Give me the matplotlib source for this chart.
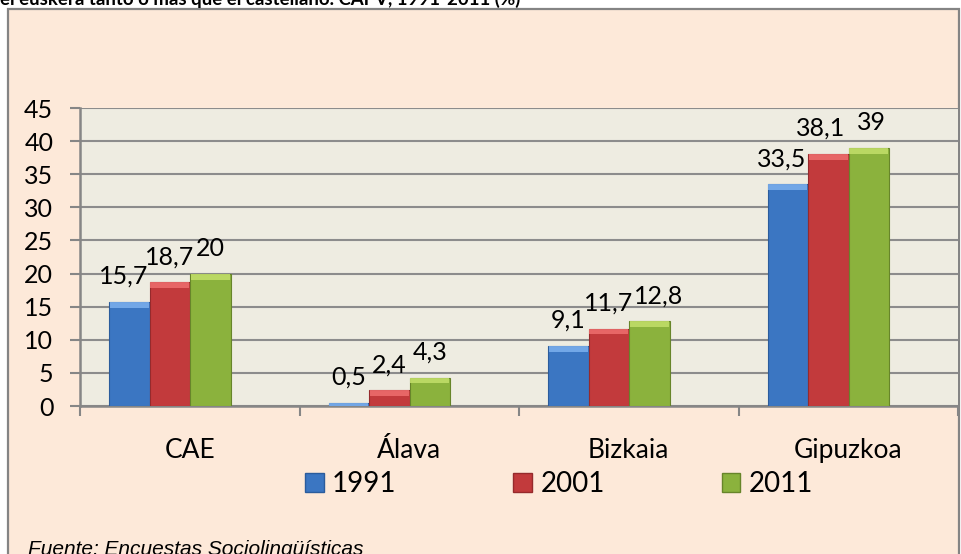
import matplotlib
matplotlib.use("Agg")
import matplotlib.pyplot as plt
import numpy as np
from matplotlib.patches import Patch, Rectangle

# data
categories = ["CAE", "Álava", "Bizkaia", "Gipuzkoa"]
years = ["1991", "2001", "2011"]
v1991 = [15.7, 0.5, 9.1, 33.5]
v2001 = [18.7, 2.4, 11.7, 38.1]
v2011 = [20.0, 4.3, 12.8, 39.0]
yticks = [0, 5, 10, 15, 20, 25, 30, 35, 40, 45]

TITLE = "el euskera tanto o más que el castellano. CAPV, 1991-2011 (%)"
SOURCE = "Fuente: Encuestas Sociolingüísticas"

BODY = ["#3B76C2", "#C23A3C", "#8BB23D"]
TOP = ["#7DB0EE", "#EE6E6E", "#C3DF6A"]
EDGE = ["#2B5C9C", "#962A2C", "#67852A"]
FRAME_BG = "#FDE9D9"
PLOT_BG = "#EEECE1"
GRID = "#8C8C8C"

# small horizontal nudges (pixels) of some value labels, as in the original
NUDGE = {(0, 0): -6, (2, 2): 9, (3, 0): -6, (3, 1): -8, (3, 2): 3}

W, H = 961, 554
plt.rcParams["font.family"] = ["Lato", "DejaVu Sans"]

fig = plt.figure(figsize=(W / 100, H / 100), dpi=100)
fig.patch.set_facecolor("white")

# outer chart frame, drawn in a background axes
bg = fig.add_axes([0, 0, 1, 1], zorder=-1)
bg.set_xlim(0, W); bg.set_ylim(H, 0); bg.axis("off")
bg.add_patch(Rectangle((8, 9), 951, H + 10, facecolor=FRAME_BG,
                       edgecolor="#848484", linewidth=1.6))

ax = fig.add_axes([80 / W, 1 - 406 / H, 878 / W, 298 / H], zorder=1)
ax.set_facecolor(PLOT_BG)

x = np.arange(len(categories))
bw = 0.1845
shift = -0.091
series = [v1991, v2001, v2011]
for i, vals in enumerate(series):
    xs = x + shift + (i - 1) * bw
    vals = np.asarray(vals)
    ax.bar(xs, vals, width=bw, color=BODY[i], edgecolor=EDGE[i], linewidth=0.8, zorder=3)
    band = np.minimum(vals, 0.9)
    ax.bar(xs, band, bottom=vals - band, width=bw * 0.96, color=TOP[i],
           linewidth=0, alpha=0.85, zorder=4)
    for j, (xv, v) in enumerate(zip(xs, vals)):
        lab = f"{v:g}".replace(".", ",")
        ax.annotate(lab, (xv, v), xytext=(NUDGE.get((j, i), 0), 18),
                    textcoords="offset pixels", ha="center", va="baseline",
                    fontsize=18, color="black", zorder=5)

ax.set_ylim(0, 45)
ax.set_yticks(yticks)
ax.set_xlim(-0.5, len(categories) - 0.5)
ax.set_xticks(x)
ax.set_xticklabels(categories, fontsize=19)
ax.set_xticks(np.arange(len(categories) + 1) - 0.5, minor=True)
ax.tick_params(axis="x", which="major", length=0, pad=23)
ax.tick_params(axis="x", which="minor", length=7.2, width=1.5, color="#868686")
ax.tick_params(axis="y", length=7.2, width=1.5, color="#868686", labelsize=18, pad=12)
ax.yaxis.grid(True, color=GRID, linewidth=1.5, zorder=1)
ax.set_axisbelow(True)
for side in ["top", "right"]:
    ax.spines[side].set_visible(False)
for side in ["left", "bottom"]:
    ax.spines[side].set_color("#868686")
    ax.spines[side].set_linewidth(1.8)

handles = [Patch(facecolor=BODY[i], edgecolor=EDGE[i], label=years[i]) for i in range(3)]
fig.legend(handles=handles, loc="center", bbox_to_anchor=(559 / W, 1 - 484 / H),
           ncol=3, frameon=False, fontsize=20, handlelength=0.68, handleheight=0.68,
           handletextpad=0.3, columnspacing=4.2, borderpad=0)

fig.text(0, 1 - 5 / H, TITLE, ha="left", va="baseline", fontsize=13.4, fontweight="bold")
fig.text(28 / W, 1 - 555 / H, SOURCE, ha="left", va="baseline", fontsize=15,
         style="italic", family=["Liberation Sans", "DejaVu Sans"])

fig.savefig("out.png", dpi=100)
